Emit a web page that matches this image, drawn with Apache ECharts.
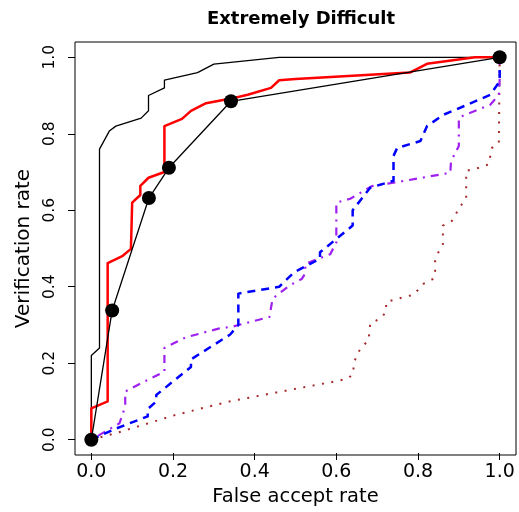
<!DOCTYPE html>
<html>
<head>
<meta charset="utf-8">
<script src="https://cdn.jsdelivr.net/npm/echarts@6/dist/echarts.min.js"></script>
<style>
html,body{margin:0;padding:0;background:#fff;}
#chart{width:519px;height:512px;}
</style>
</head>
<body>
<div id="chart"></div>
<script>
const titleText = 'Extremely Difficult';
const xName = 'False accept rate';
const yName = 'Verification rate';
const tickMin = 0, tickMax = 1, tickStep = 0.2;

const blackThin = [[0,0],[0,0.22],[0.02,0.24],[0.02,0.76],[0.044,0.807],[0.06,0.82],[0.122,0.841],[0.14,0.86],[0.14,0.90],[0.179,0.92],[0.179,0.94],[0.26,0.96],[0.30,0.982],[0.46,1.0],[1,1]];

const redLine = [[0,0],[0,0.082],[0.04,0.10],[0.04,0.462],[0.077,0.481],[0.097,0.499],[0.10,0.62],[0.12,0.64],[0.12,0.664],[0.14,0.685],[0.179,0.70],[0.179,0.82],[0.222,0.839],[0.244,0.86],[0.281,0.88],[0.342,0.892],[0.383,0.902],[0.44,0.92],[0.46,0.94],[0.50,0.943],[0.78,0.96],[0.822,0.983],[0.94,1.0],[1,1]];

const dotLine = [[0,0],[0.051,0.338],[0.141,0.632],[0.19,0.711],[0.342,0.885],[1,1]];

const blueLine = [[0,0],[0.06,0.029],[0.138,0.061],[0.138,0.08],[0.159,0.1],[0.159,0.117],[0.244,0.19],[0.244,0.21],[0.34,0.275],[0.36,0.30],[0.36,0.382],[0.46,0.40],[0.497,0.438],[0.56,0.473],[0.56,0.49],[0.64,0.56],[0.64,0.60],[0.683,0.659],[0.74,0.677],[0.74,0.742],[0.749,0.763],[0.806,0.781],[0.822,0.82],[0.863,0.85],[0.912,0.872],[0.977,0.902],[1,0.937],[1,1]];

const purpleLine = [[0,0],[0.069,0.043],[0.083,0.087],[0.083,0.126],[0.13,0.152],[0.179,0.178],[0.179,0.24],[0.232,0.268],[0.314,0.291],[0.347,0.296],[0.436,0.321],[0.444,0.369],[0.485,0.403],[0.515,0.42],[0.524,0.435],[0.524,0.46],[0.556,0.473],[0.585,0.485],[0.6,0.516],[0.6,0.62],[0.634,0.63],[0.687,0.663],[0.74,0.672],[0.879,0.698],[0.881,0.728],[0.9,0.768],[0.9,0.842],[0.916,0.85],[0.977,0.876],[0.998,0.902],[1,0.94],[1,1]];

const brownLine = [[0,0],[0.06,0.017],[0.207,0.065],[0.338,0.10],[0.485,0.13],[0.605,0.154],[0.63,0.161],[0.642,0.174],[0.642,0.20],[0.659,0.239],[0.679,0.26],[0.683,0.304],[0.708,0.317],[0.722,0.334],[0.722,0.36],[0.765,0.373],[0.789,0.379],[0.814,0.408],[0.838,0.421],[0.842,0.442],[0.842,0.468],[0.85,0.49],[0.861,0.512],[0.861,0.56],[0.883,0.572],[0.904,0.611],[0.918,0.63],[0.918,0.703],[0.949,0.711],[0.973,0.72],[0.981,0.763],[0.998,0.776],[1,1]];

// plot box (R style, 4% extension)
const W = 519, H = 512;
const boxL = 75, boxR = 3, boxT = 42, boxB = 57;
const ext = 0.04;
const boxW = W - boxL - boxR, boxH = H - boxT - boxB;
const padX = boxW * ext / (1 + 2 * ext), padY = boxH * ext / (1 + 2 * ext);

const chart = echarts.init(document.getElementById('chart'), null, {renderer: 'canvas'});
const fmt = v => Number(v).toFixed(1);

function lineSeries(data, color, width, type, z) {
  return {
    type: 'line', data: data, showSymbol: false, symbol: 'none', z: z,
    xAxisIndex: 0, yAxisIndex: 0,
    lineStyle: {color: color, width: width, type: type, cap: 'butt', join: 'round'},
    emphasis: {disabled: true}, silent: true
  };
}

function hidden(gridIndex, min, max) {
  return {gridIndex: gridIndex, type: 'value', min: min, max: max, show: false};
}

chart.setOption({
  animation: false,
  backgroundColor: '#ffffff',
  title: {
    text: titleText, left: 296, top: 5, textAlign: 'center',
    textStyle: {fontFamily: 'DejaVu Sans', fontWeight: 'bold', fontSize: 18, color: '#000'}
  },
  grid: [
    {left: boxL, right: boxR, top: boxT, bottom: boxB, show: true, borderColor: '#000', borderWidth: 1, backgroundColor: 'transparent'},
    {left: boxL + padX, right: boxR + padX, top: boxT, bottom: boxB, show: false},
    {left: boxL, right: boxR, top: boxT + padY, bottom: boxB + padY, show: false}
  ],
  xAxis: [
    hidden(0, -ext, 1 + ext),
    {
      gridIndex: 1, type: 'value', min: tickMin, max: tickMax, interval: tickStep,
      name: xName, nameLocation: 'middle', nameGap: 34,
      nameTextStyle: {fontFamily: 'DejaVu Sans', fontSize: 19.5, color: '#000'},
      axisLine: {show: false},
      axisTick: {show: true, inside: false, length: 7, lineStyle: {color: '#000', width: 1}},
      axisLabel: {formatter: fmt, margin: 10, fontFamily: 'DejaVu Sans', fontSize: 19, color: '#000'},
      splitLine: {show: false}
    },
    hidden(2, 0, 1)
  ],
  yAxis: [
    hidden(0, -ext, 1 + ext),
    hidden(1, 0, 1),
    {
      gridIndex: 2, type: 'value', min: tickMin, max: tickMax, interval: tickStep,
      name: yName, nameLocation: 'middle', nameGap: 36, nameRotate: 90,
      nameTextStyle: {fontFamily: 'DejaVu Sans', fontSize: 20, color: '#000'},
      axisLine: {show: false},
      axisTick: {show: true, inside: false, length: 7, lineStyle: {color: '#000', width: 1}},
      axisLabel: {formatter: fmt, rotate: 90, margin: 17, fontFamily: 'DejaVu Sans', fontSize: 15.5, color: '#000'},
      splitLine: {show: false}
    }
  ],
  series: [
    lineSeries(brownLine, '#A52A2A', 2, [2, 7.5], 2),
    lineSeries(purpleLine, '#A020F0', 2.2, [2, 6, 8, 6], 3),
    lineSeries(blueLine, '#0000FF', 2.5, [8, 6], 4),
    lineSeries(blackThin, '#000000', 1.3, 'solid', 5),
    lineSeries(redLine, '#FF0000', 2.5, 'solid', 6),
    {
      type: 'line', data: dotLine, symbol: 'circle', symbolSize: 14, showSymbol: true, z: 10,
      xAxisIndex: 0, yAxisIndex: 0,
      itemStyle: {color: '#000'}, lineStyle: {color: '#000', width: 1.3},
      emphasis: {disabled: true}, silent: true
    }
  ]
});
</script>
</body>
</html>
